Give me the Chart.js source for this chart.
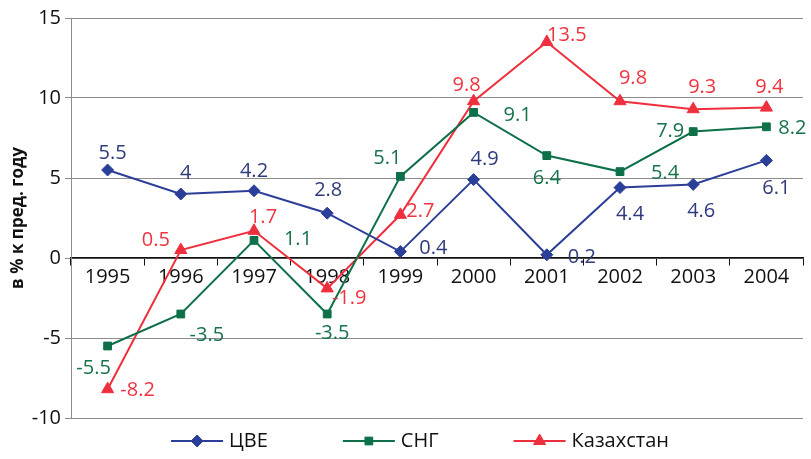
<!DOCTYPE html>
<html>
<head>
<meta charset="utf-8">
<script src="https://cdn.jsdelivr.net/npm/chart.js@4.4.1/dist/chart.umd.min.js"></script>
<style>
html,body{margin:0;padding:0;background:#fff;}
#wrap{width:811px;height:459px;position:relative;}
</style>
</head>
<body>
<div id="wrap"><canvas id="c" width="811" height="459"></canvas></div>
<script>
const years = ['1995','1996','1997','1998','1999','2000','2001','2002','2003','2004'];
const cveValues = [5.5, 4, 4.2, 2.8, 0.4, 4.9, 0.2, 4.4, 4.6, 6.1];
const sngValues = [-5.5, -3.5, 1.1, -3.5, 5.1, 9.1, 6.4, 5.4, 7.9, 8.2];
const kazValues = [-8.2, 0.5, 1.7, -1.9, 2.7, 9.8, 13.5, 9.8, 9.3, 9.4];
const seriesNames = ['ЦВЕ', 'СНГ', 'Казахстан'];
const yTitle = 'в % к пред. году';

// label placement offsets (dx, dy) in pixels relative to each point
const labelOffsets = [
  [[5,-17],[5,-21],[0,-20],[1,-23],[33,-3],[11,-20],[35,2],[10,27],[8,27],[10,28]],
  [[-14,22],[26,21],[44,-1],[5,19],[-13,-18],[44,3],[0,23],[45,2],[-23,0],[26,1]],
  [[30,1],[-25,-10],[9,-14],[22,10],[20,-4],[-7,-16],[20,-7],[13,-23],[9,-22],[3,-20]]
];
const lineColors = ['#2B3F98', '#0E7048', '#EE2F3D'];
const labelColors = ['#2E3A7C', '#167249', '#EF3340'];
const pointStyles = ['rectRot', 'rect', 'triangle'];
const pointRadii = [6, 5.5, 7];
const FONT = "'Open Sans', 'DejaVu Sans', sans-serif";

const dataLabelPlugin = {
  id: 'dataLabels',
  afterDatasetsDraw(chart) {
    const ctx = chart.ctx;
    ctx.save();
    ctx.font = '20px ' + FONT;
    ctx.textAlign = 'center';
    ctx.textBaseline = 'middle';
    chart.data.datasets.forEach((ds, di) => {
      const meta = chart.getDatasetMeta(di);
      meta.data.forEach((pt, i) => {
        const off = labelOffsets[di][i];
        ctx.fillStyle = labelColors[di];
        ctx.fillText(String(ds.data[i]), pt.x + off[0], pt.y + off[1]);
      });
    });
    ctx.restore();
  }
};

const legendPlugin = {
  id: 'customLegend',
  afterDraw(chart) {
    const ctx = chart.ctx;
    ctx.save();
    ctx.font = '20px ' + FONT;
    ctx.textBaseline = 'middle';
    const lineLen = 52, gapText = 6, gapItem = 75;
    const widths = seriesNames.map(n => lineLen + gapText + ctx.measureText(n).width);
    const total = widths.reduce((a, b) => a + b, 0) + gapItem * (widths.length - 1);
    const cx = (chart.chartArea.left + chart.chartArea.right) / 2 - 17;
    let x = cx - total / 2;
    const y = 441;
    seriesNames.forEach((n, i) => {
      ctx.strokeStyle = lineColors[i];
      ctx.fillStyle = lineColors[i];
      ctx.lineWidth = 2;
      ctx.beginPath();
      ctx.moveTo(x, y);
      ctx.lineTo(x + lineLen, y);
      ctx.stroke();
      ctx.lineWidth = 1;
      Chart.helpers.drawPoint(ctx, {pointStyle: pointStyles[i], radius: pointRadii[i], rotation: 0, borderWidth: 1}, x + lineLen / 2, y);
      ctx.fillStyle = '#111';
      ctx.textAlign = 'left';
      ctx.fillText(n, x + lineLen + gapText, y);
      x += widths[i] + gapItem;
    });
    ctx.restore();
  }
};

const seriesData = [cveValues, sngValues, kazValues];

new Chart(document.getElementById('c'), {
  type: 'line',
  data: {
    labels: years,
    datasets: seriesData.map((vals, i) => ({
      label: seriesNames[i],
      data: vals,
      borderColor: lineColors[i],
      backgroundColor: lineColors[i],
      pointBackgroundColor: lineColors[i],
      pointBorderColor: lineColors[i],
      pointStyle: pointStyles[i],
      pointRadius: pointRadii[i],
      pointBorderWidth: 1,
      borderWidth: 2,
      tension: 0,
      fill: false
    }))
  },
  options: {
    responsive: false,
    animation: false,
    devicePixelRatio: 1,
    layout: { padding: { top: 18, right: 7, bottom: 41, left: 0 } },
    plugins: {
      legend: { display: false },
      tooltip: { enabled: false }
    },
    scales: {
      x: {
        type: 'category',
        position: { y: 0 },
        offset: true,
        grid: {
          display: true,
          drawOnChartArea: false,
          drawTicks: true,
          tickLength: 7,
          offset: true,
          color: '#111'
        },
        border: { display: true, color: '#111', width: 1.5 },
        ticks: {
          color: '#111',
          font: { family: FONT, size: 20 },
          padding: 0,
          maxRotation: 0,
          autoSkip: false
        }
      },
      y: {
        min: -10,
        max: 15,
        afterFit(scale) { scale.width = 71; },
        ticks: {
          stepSize: 5,
          color: '#111',
          font: { family: FONT, size: 20 },
          padding: 4
        },
        grid: {
          color: '#8c8c8c',
          lineWidth: 1,
          drawTicks: true,
          tickLength: 6
        },
        border: { display: true, color: '#8c8c8c', width: 1 },
        title: {
          display: true,
          text: yTitle,
          color: '#111',
          font: { family: FONT, size: 17, weight: 'bold' },
          padding: { top: 8, bottom: 0 }
        }
      }
    }
  },
  plugins: [dataLabelPlugin, legendPlugin]
});
</script>
</body>
</html>
